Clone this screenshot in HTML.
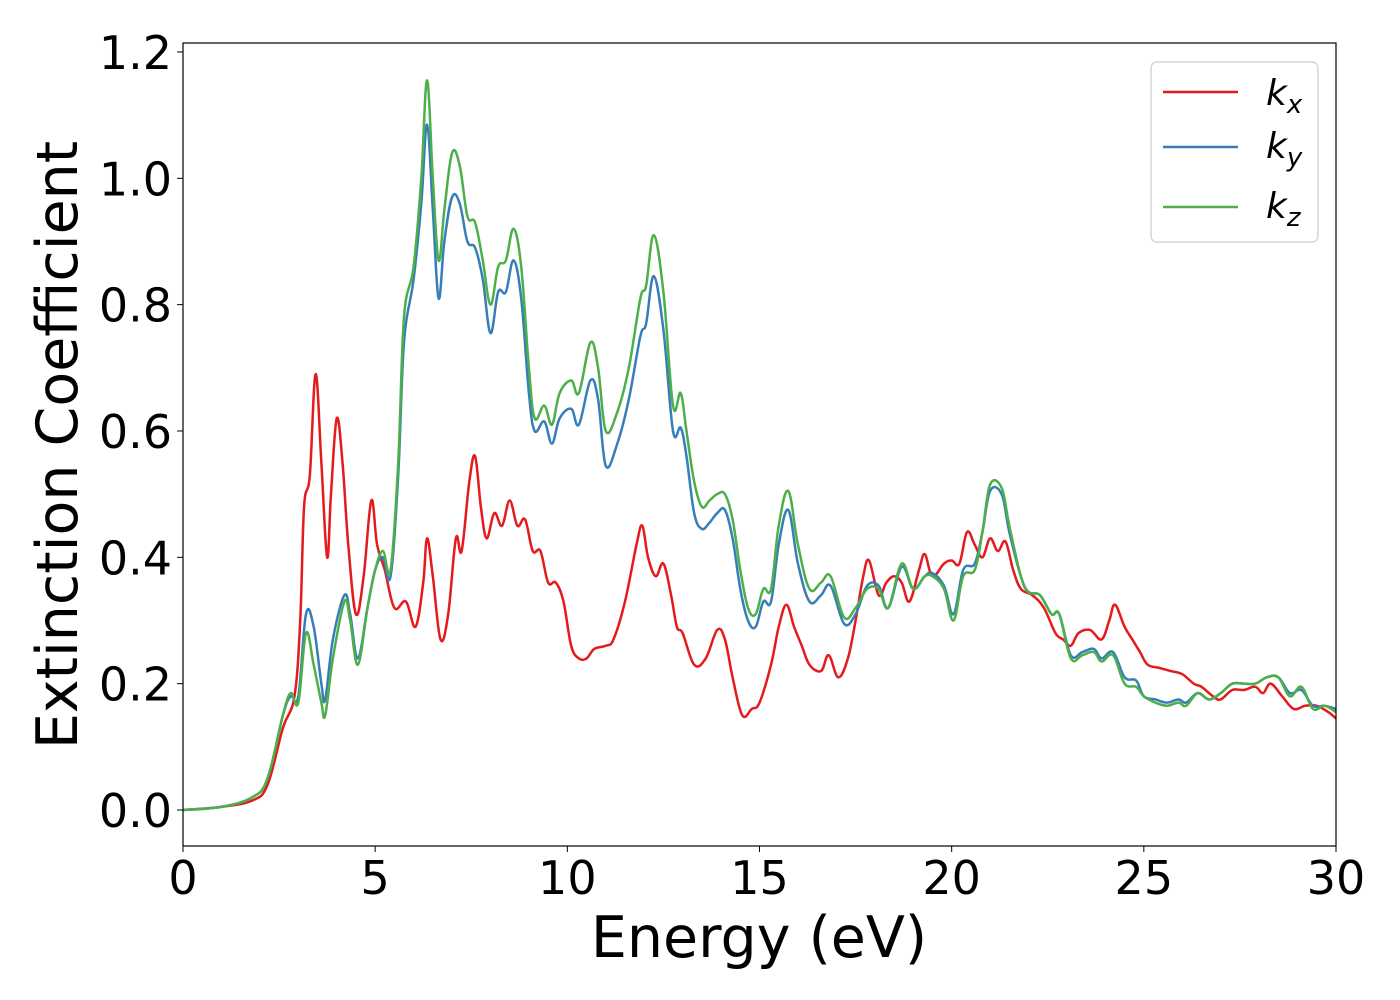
<!DOCTYPE html>
<html><head><meta charset="utf-8"><style>
html,body{margin:0;padding:0;background:#fff;}
svg{display:block;font-family:"DejaVu Sans","Liberation Sans",sans-serif;}
</style></head><body>
<svg id="chart" width="1400" height="1000" viewBox="0 0 1400 1000" xmlns="http://www.w3.org/2000/svg">
<rect width="1400" height="1000" fill="#fff"/>
<g id="ticks"></g>
<g id="series"></g>
<rect x="183" y="43" width="1153" height="803" fill="none" stroke="#000" stroke-width="1.2"/>
<text x="759" y="957" font-size="57" text-anchor="middle">Energy (eV)</text>
<text transform="translate(77,445) rotate(-90)" font-size="57" text-anchor="middle">Extinction Coefficient</text>
<g>
<rect x="1151" y="62" width="167" height="180" rx="6" fill="#fff" fill-opacity="0.8" stroke="#ccc" stroke-width="1.2"/>
<g><line x1="1163" y1="92" x2="1238" y2="92" stroke="#e41a1c" stroke-width="2.5"/><text x="1266" y="105" font-size="36" font-style="italic">k<tspan font-size="26" dy="8">x</tspan></text></g>
<g><line x1="1163" y1="147" x2="1238" y2="147" stroke="#377eb8" stroke-width="2.5"/><text x="1266" y="158" font-size="36" font-style="italic">k<tspan font-size="26" dy="8">y</tspan></text></g>
<g><line x1="1163" y1="207" x2="1238" y2="207" stroke="#4daf4a" stroke-width="2.5"/><text x="1266" y="218" font-size="36" font-style="italic">k<tspan font-size="26" dy="8">z</tspan></text></g>
</g>
</svg>
<script>
const xTicks=[0,5,10,15,20,25,30];
const yTicks=[0.0,0.2,0.4,0.6,0.8,1.0,1.2];
const eX=[0,1,1.8,2.2,2.6,2.9,3.05,3.15,3.3,3.45,3.6,3.75,3.85,4.0,4.15,4.3,4.5,4.7,4.9,5.05,5.25,5.5,5.8,6.05,6.25,6.35,6.5,6.7,6.9,7.1,7.25,7.45,7.6,7.75,7.9,8.1,8.3,8.5,8.7,8.9,9.1,9.3,9.5,9.7,9.9,10.1,10.3,10.5,10.7,11.0,11.2,11.5,11.8,11.95,12.1,12.3,12.5,12.7,12.85,13.0,13.3,13.6,13.9,14.1,14.3,14.55,14.8,15.0,15.3,15.5,15.7,15.9,16.1,16.3,16.6,16.8,17.05,17.3,17.5,17.7,17.85,18.1,18.3,18.5,18.7,18.9,19.15,19.3,19.5,19.8,20.0,20.2,20.4,20.6,20.8,21.0,21.2,21.4,21.6,21.8,22.1,22.4,22.7,22.9,23.1,23.3,23.6,23.9,24.1,24.25,24.5,24.7,24.9,25.1,25.4,25.7,26.0,26.3,26.5,26.8,27.0,27.3,27.6,27.9,28.1,28.3,28.6,28.9,29.2,29.5,29.8,30];
const kx=[0,0.005,0.015,0.04,0.13,0.18,0.3,0.48,0.53,0.69,0.55,0.40,0.5,0.62,0.55,0.42,0.31,0.37,0.49,0.42,0.38,0.32,0.33,0.29,0.36,0.43,0.37,0.27,0.31,0.43,0.41,0.52,0.56,0.48,0.43,0.47,0.45,0.49,0.45,0.46,0.41,0.41,0.36,0.36,0.33,0.26,0.24,0.24,0.255,0.26,0.27,0.33,0.42,0.45,0.40,0.37,0.39,0.34,0.29,0.28,0.23,0.24,0.285,0.27,0.21,0.15,0.16,0.17,0.23,0.29,0.325,0.29,0.26,0.23,0.22,0.245,0.21,0.24,0.3,0.37,0.395,0.34,0.36,0.37,0.36,0.33,0.38,0.405,0.37,0.39,0.395,0.39,0.44,0.42,0.4,0.43,0.41,0.425,0.38,0.35,0.34,0.32,0.28,0.27,0.26,0.28,0.285,0.27,0.30,0.325,0.29,0.27,0.25,0.23,0.225,0.22,0.215,0.2,0.195,0.18,0.175,0.19,0.19,0.195,0.185,0.2,0.18,0.16,0.165,0.165,0.155,0.145];
const eYZ=[0,1,1.8,2.2,2.6,2.8,3.0,3.2,3.4,3.6,3.7,3.9,4.2,4.35,4.55,4.8,5.0,5.2,5.4,5.6,5.75,6.0,6.2,6.35,6.5,6.65,6.8,7.0,7.2,7.4,7.6,7.8,8.0,8.2,8.4,8.6,8.8,9.0,9.15,9.4,9.6,9.8,10.1,10.3,10.6,10.8,11.0,11.3,11.6,11.9,12.05,12.25,12.5,12.75,12.95,13.1,13.3,13.5,13.7,13.9,14.1,14.3,14.5,14.7,14.9,15.1,15.3,15.5,15.75,16.0,16.3,16.6,16.85,17.2,17.5,17.8,18.1,18.35,18.7,19.0,19.3,19.5,19.8,20.05,20.3,20.6,20.8,21.0,21.3,21.5,21.8,22.0,22.3,22.6,22.8,23.1,23.4,23.7,23.9,24.2,24.5,24.8,25.0,25.3,25.6,25.9,26.1,26.4,26.7,27.0,27.3,27.6,27.9,28.2,28.5,28.8,29.1,29.4,29.7,30];
const ky=[0,0.005,0.02,0.05,0.15,0.18,0.18,0.31,0.29,0.2,0.175,0.27,0.34,0.31,0.24,0.32,0.38,0.40,0.37,0.53,0.74,0.84,0.96,1.085,0.95,0.81,0.9,0.97,0.96,0.9,0.89,0.84,0.755,0.82,0.82,0.87,0.81,0.66,0.60,0.615,0.58,0.62,0.635,0.61,0.68,0.65,0.545,0.58,0.65,0.75,0.77,0.845,0.76,0.60,0.605,0.56,0.47,0.445,0.455,0.47,0.475,0.43,0.35,0.30,0.29,0.33,0.33,0.42,0.475,0.39,0.33,0.34,0.355,0.295,0.31,0.355,0.355,0.32,0.385,0.35,0.37,0.375,0.355,0.31,0.38,0.39,0.44,0.505,0.50,0.44,0.37,0.345,0.34,0.31,0.31,0.245,0.25,0.255,0.24,0.25,0.21,0.205,0.18,0.175,0.17,0.175,0.17,0.185,0.175,0.185,0.2,0.2,0.2,0.21,0.21,0.185,0.19,0.165,0.165,0.16];
const kz=[0,0.005,0.02,0.05,0.15,0.185,0.17,0.28,0.23,0.17,0.15,0.24,0.33,0.30,0.23,0.32,0.38,0.41,0.38,0.55,0.78,0.86,1.0,1.155,1.0,0.87,0.95,1.04,1.02,0.94,0.93,0.87,0.80,0.86,0.87,0.92,0.86,0.70,0.62,0.64,0.61,0.66,0.68,0.66,0.74,0.70,0.60,0.63,0.70,0.81,0.83,0.91,0.82,0.64,0.66,0.60,0.52,0.48,0.49,0.50,0.50,0.46,0.38,0.32,0.31,0.35,0.35,0.45,0.505,0.42,0.35,0.36,0.37,0.305,0.32,0.35,0.35,0.32,0.39,0.35,0.37,0.37,0.35,0.30,0.37,0.38,0.44,0.515,0.51,0.45,0.37,0.345,0.34,0.31,0.31,0.24,0.245,0.25,0.235,0.245,0.20,0.195,0.18,0.17,0.165,0.17,0.165,0.185,0.175,0.185,0.2,0.2,0.2,0.21,0.21,0.18,0.195,0.16,0.165,0.155];
const NS="http://www.w3.org/2000/svg";
const X0=183,X1=1336,Y0v=810,PXU=631.7;
function xs(v){return X0+(v/30)*(X1-X0);}
function ys(v){return Y0v-v*PXU;}
const tg=document.getElementById('ticks');
xTicks.forEach(t=>{
 const l=document.createElementNS(NS,'line');
 
 
 l.setAttribute('x1',xs(t));l.setAttribute('x2',xs(t));l.setAttribute('y1',846);l.setAttribute('y2',852);l.setAttribute('stroke','#000');
 tg.appendChild(l);
 const tx=document.createElementNS(NS,'text');
 
 
 tx.setAttribute('x',xs(t));tx.setAttribute('y',894);tx.setAttribute('font-size','46');tx.setAttribute('text-anchor','middle');
 tx.textContent=t;tg.appendChild(tx);
});
yTicks.forEach(t=>{
 const l=document.createElementNS(NS,'line');
 
 
 l.setAttribute('x1',177);l.setAttribute('x2',183);l.setAttribute('y1',ys(t));l.setAttribute('y2',ys(t));l.setAttribute('stroke','#000');
 tg.appendChild(l);
 const tx=document.createElementNS(NS,'text');
 
 
 tx.setAttribute('x',172);tx.setAttribute('y',ys(t)+17);tx.setAttribute('font-size','46');tx.setAttribute('text-anchor','end');
 tx.textContent=t.toFixed(1);tg.appendChild(tx);
});
function pathFor(ex,ky){
 const p=ex.map((e,i)=>[xs(e),ys(ky[i])]);
 let d='M'+p[0][0]+','+p[0][1];
 for(let i=0;i<p.length-1;i++){
  const a=p[Math.max(0,i-1)],b=p[i],c=p[i+1],e=p[Math.min(p.length-1,i+2)];
  const t=0.18;
  d+=' C'+(b[0]+(c[0]-a[0])*t)+','+(b[1]+(c[1]-a[1])*t)+' '+(c[0]-(e[0]-b[0])*t)+','+(c[1]-(e[1]-b[1])*t)+' '+c[0]+','+c[1];
 }
 return d;
}
const sg=document.getElementById('series');
[[eX,kx,'#e41a1c','series-kx'],[eYZ,ky,'#377eb8','series-ky'],[eYZ,kz,'#4daf4a','series-kz']].forEach(s=>{
 const p=document.createElementNS(NS,'path');
 
 
 p.setAttribute('d',pathFor(s[0],s[1]));
 p.setAttribute('fill','none');p.setAttribute('stroke',s[2]);p.setAttribute('stroke-width','2.5');p.setAttribute('stroke-linejoin','round');
 sg.appendChild(p);
});
</script>
</body></html>
